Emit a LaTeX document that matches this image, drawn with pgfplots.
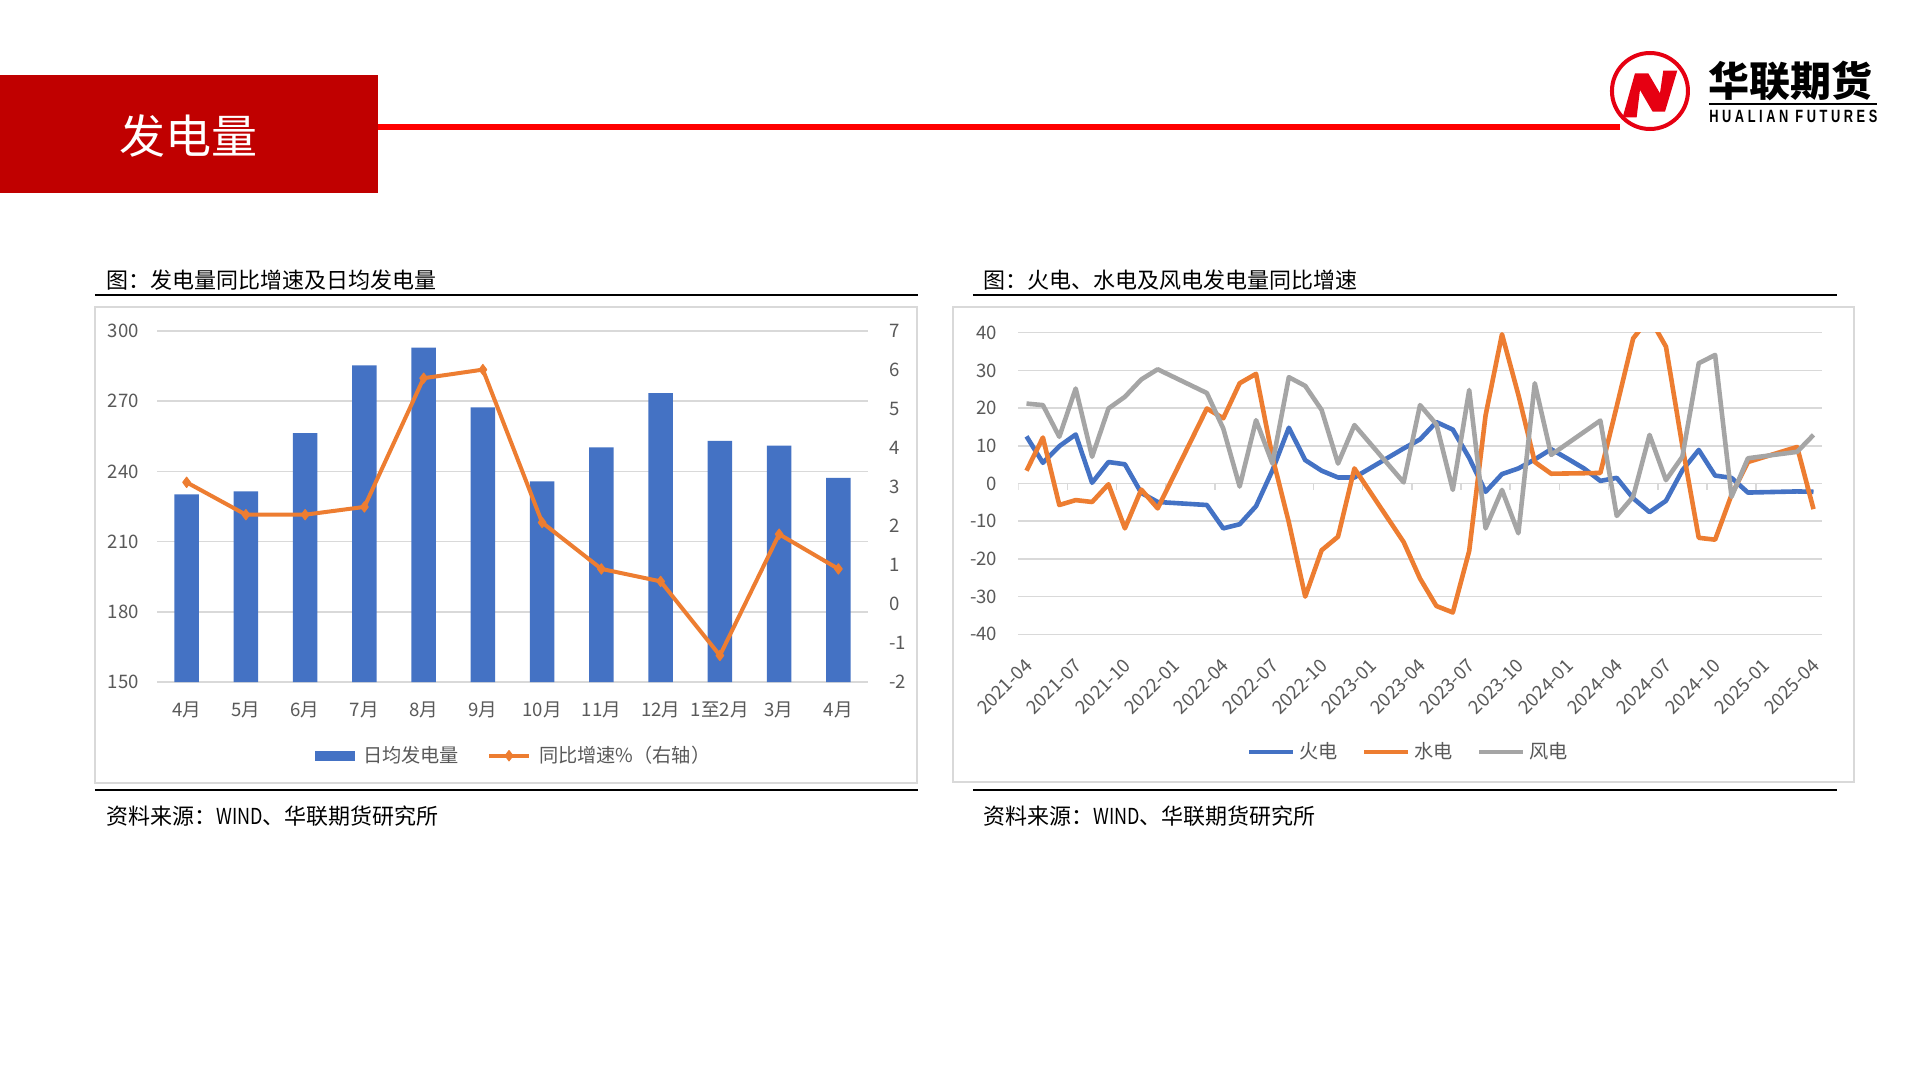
\documentclass[border=0pt]{standalone}
\usepackage{pgfplots}
\pgfplotsset{compat=1.18}
\usepackage{fontspec}
\setmainfont{Noto Sans CJK SC}
\newfontfamily\logofont{Liberation Sans}
\definecolor{xlblue}{HTML}{4472C4}
\definecolor{xlorange}{HTML}{ED7D31}
\definecolor{xlgray}{HTML}{A5A5A5}
\definecolor{tickgray}{HTML}{595959}
\definecolor{gridgray}{HTML}{D9D9D9}
\definecolor{framegray}{HTML}{D9D9D9}
\definecolor{boxred}{HTML}{C00000}
\definecolor{linered}{HTML}{FF0000}
\definecolor{logored}{HTML}{E60012}
\pgfplotsset{
  xlbase/.style={
    scale only axis,
    axis line style={draw=none},
    major tick length=0pt,
    tick label style={font=\fontsize{9.3bp}{10bp}\selectfont, text=tickgray},
    /pgf/number format/assume math mode=true,
    grid style={gridgray, line width=0.75bp},
  },
  marklinelegend/.style={legend image code/.code={\draw[mark repeat=2,mark phase=2,##1] plot coordinates {(0bp,0bp) (10bp,0bp) (20bp,0bp)};}},
  barlegend/.style={legend image code/.code={\fill[xlblue] (0bp,-2.4bp) rectangle (19.5bp,2.4bp);}},
  shortlinelegend/.style={legend image code/.code={\draw[##1] (0bp,0bp) -- (22bp,0bp);}},
}
\newcommand{\wind}{\scalebox{0.82}[1]{WIND}}
\begin{document}
\begin{tikzpicture}
\path[use as bounding box] (0bp,0bp) rectangle (960bp,-540bp);
\begin{scope}[x=0.5bp,y=-0.5bp]
\fill[white] (0,0) rectangle (1920,1080);
% header
\fill[boxred] (0,75) rectangle (378,193);
\node[text=white, font=\fontsize{23bp}{23bp}\selectfont] at (189,136) {发电量};
\fill[linered] (378,124) rectangle (1620,130);
% logo
\draw[logored, line width=2bp] (1650,91) circle [radius=19bp];
\fill[logored] (1622.7,117.3) -- (1635,73.3) -- (1648.3,73.3) -- (1660,93.3) -- (1663.3,70.7) -- (1677.3,70.7) -- (1665,111.7) -- (1652.7,111.7) -- (1640,90) -- (1636.7,117.3) -- cycle;
\node[anchor=west, inner sep=0, font=\bfseries\fontsize{20.5bp}{21bp}\selectfont] at (1708,81) {华联期货};
\draw[black, line width=0.8bp] (1709,104) -- (1877,104);
\node[anchor=west, inner sep=0] at (1709,116) {\resizebox{84bp}{6.2bp}{\logofont\bfseries H U A L I A N\ \ F U T U R E S}};
% left panel decorations
\node[anchor=west, inner sep=0, font=\fontsize{11bp}{13bp}\selectfont] at (106,280) {图：发电量同比增速及日均发电量};
\draw[black, line width=1.3bp] (95,295) -- (918,295);
\draw[framegray, line width=0.75bp] (95,307) rectangle (917,783);
\draw[black, line width=1.3bp] (95,790) -- (918,790);
\node[anchor=west, inner sep=0, font=\fontsize{11bp}{13bp}\selectfont] at (106,816) {资料来源：\wind 、华联期货研究所};
% right panel decorations
\node[anchor=west, inner sep=0, font=\fontsize{11bp}{13bp}\selectfont] at (983,280) {图：火电、水电及风电发电量同比增速};
\draw[black, line width=1.3bp] (973,295) -- (1837,295);
\draw[framegray, line width=0.75bp] (953,307) rectangle (1854,782);
\draw[black, line width=1.3bp] (973,790) -- (1837,790);
\node[anchor=west, inner sep=0, font=\fontsize{11bp}{13bp}\selectfont] at (983,816) {资料来源：\wind 、华联期货研究所};
\end{scope}

% ---------- left chart: bars ----------
\begin{axis}[xlbase,
  at={(78.5bp,-341bp)}, anchor=south west,
  width=355.5bp, height=175.5bp,
  xmin=-0.5, xmax=11.5, ymin=150, ymax=300,
  ytick={150,180,...,300},
  xtick={0,...,11},
  xticklabels={4月,5月,6月,7月,8月,9月,10月,11月,12月,1至2月,3月,4月},
  ymajorgrids,
  yticklabel style={xshift=-5.5bp},
  xticklabel style={yshift=-6.5bp},
]
\addplot[ybar, bar width=12.15bp, fill=xlblue, draw=none] coordinates {
(0,230.2) (1,231.5) (2,256.4) (3,285.3) (4,292.9) (5,267.4)
(6,235.7) (7,250.3) (8,273.5) (9,253.0) (10,251.0) (11,237.2)};
\end{axis}

% ---------- left chart: line on right axis ----------
\begin{axis}[xlbase,
  at={(78.5bp,-341bp)}, anchor=south west,
  width=355.5bp, height=175.5bp,
  xmin=-0.5, xmax=11.5, ymin=-2, ymax=7,
  axis y line*=right, axis x line=none,
  ytick={-2,-1,...,7},
  yticklabel style={xshift=7bp},
  legend style={at={(0.506,-0.21)}, anchor=center, draw=none, fill=none,
    legend columns=2, font=\fontsize{9.6bp}{10bp}\selectfont, text=tickgray,
    nodes={inner xsep=4bp},
    /tikz/every even column/.append style={column sep=10bp}},
]
\addlegendimage{barlegend}
\addlegendentry{日均发电量}
\addplot[xlorange, line width=2bp, line join=round, mark=diamond*, mark size=2.6bp,
  mark options={fill=xlorange, draw=xlorange, line width=0.5bp}, marklinelegend]
  coordinates {
(0,3.12) (1,2.29) (2,2.29) (3,2.49) (4,5.79) (5,6.01)
(6,2.09) (7,0.90) (8,0.58) (9,-1.32) (10,1.79) (11,0.90)};
\addlegendentry{同比增速\%（右轴）}
\end{axis}

% ---------- right chart ----------
\begin{axis}[xlbase,
  at={(509.15bp,-317.15bp)}, anchor=south west,
  width=401.7bp, height=150.8bp,
  xmin=-0.5, xmax=48.5, ymin=-40, ymax=40,
  ytick={-40,-30,...,40},
  xtick={0,3,...,48},
  xticklabels={2021-04,2021-07,2021-10,2022-01,2022-04,2022-07,2022-10,2023-01,2023-04,2023-07,2023-10,2024-01,2024-04,2024-07,2024-10,2025-01,2025-04},
  xticklabel style={xshift=3.6bp, yshift=-11.5bp, rotate=45, anchor=east},
  ymajorgrids,
  yticklabel style={xshift=-7bp},
  legend style={at={(0.487,-0.39)}, anchor=center, draw=none, fill=none,
    legend columns=3, font=\fontsize{9.6bp}{10bp}\selectfont, text=tickgray,
    /tikz/every even column/.append style={column sep=10bp}},
  shortlinelegend,
  every axis plot/.append style={line width=2.3bp, line join=round, mark=none},
]
\pgfplotsinvokeforeach{-0.5,2.5,5.5,8.5,11.5,14.5,17.5,20.5,23.5,26.5,29.5,32.5,35.5,38.5,41.5,44.5,47.5}{
  \draw[gridgray, line width=0.75bp] (axis cs:#1,0) -- ++(0bp,-3bp);
}
\addplot[xlblue] coordinates {
(0,12.5) (1,5.5) (2,9.9) (3,13.0) (4,0.2) (5,5.7) (6,5.1) (7,-2.5) (8,-4.9)
(11,-5.7) (12,-11.9) (13,-10.8) (14,-6.0) (15,3.5) (16,14.8) (17,6.2) (18,3.4)
(19,1.6) (20,1.6) (23,9.3) (24,11.7) (25,16.3) (26,14.3) (27,6.8) (28,-2.2)
(29,2.5) (30,4.0) (31,6.4) (32,9.1) (33,6.6) (34,4.0) (35,0.7) (36,1.5)
(37,-3.9) (38,-7.6) (39,-4.6) (40,3.5) (41,8.9) (42,2.1) (43,1.5) (44,-2.4)
(47,-2.1) (48,-2.2)};
\addlegendentry{火电}
\addplot[xlorange] coordinates {
(0,3.4) (1,12.2) (2,-5.7) (3,-4.4) (4,-4.9) (5,-0.2) (6,-11.9) (7,-1.6) (8,-6.6)
(11,19.9) (12,17.3) (13,26.6) (14,29.1) (15,7.0) (16,-10.3) (17,-30.0) (18,-17.7)
(19,-14.1) (20,4.0) (23,-15.5) (24,-25.2) (25,-32.5) (26,-34.2) (27,-17.9)
(28,18.1) (29,39.6) (30,23.5) (31,5.7) (32,2.6) (35,2.8) (36,20.5) (37,38.5)
(38,44.0) (39,36.3) (40,10.0) (41,-14.4) (42,-14.9) (43,-3.0) (44,5.7)
(47,9.7) (48,-6.8)};
\addlegendentry{水电}
\addplot[xlgray] coordinates {
(0,21.2) (1,20.8) (2,12.4) (3,25.2) (4,7.1) (5,19.9) (6,23.0) (7,27.6) (8,30.3)
(11,24.0) (12,14.6) (13,-0.8) (14,16.8) (15,5.3) (16,28.2) (17,25.9) (18,19.5)
(19,5.3) (20,15.5) (23,0.3) (24,20.8) (25,15.7) (26,-1.7) (27,24.8) (28,-11.9)
(29,-1.7) (30,-13.2) (31,26.6) (32,7.6) (35,16.7) (36,-8.6) (37,-3.5) (38,12.9)
(39,0.9) (40,7.1) (41,31.9) (42,34.1) (43,-3.5) (44,6.7) (47,8.4) (48,12.9)};
\addlegendentry{风电}
\end{axis}
\end{tikzpicture}
\end{document}
